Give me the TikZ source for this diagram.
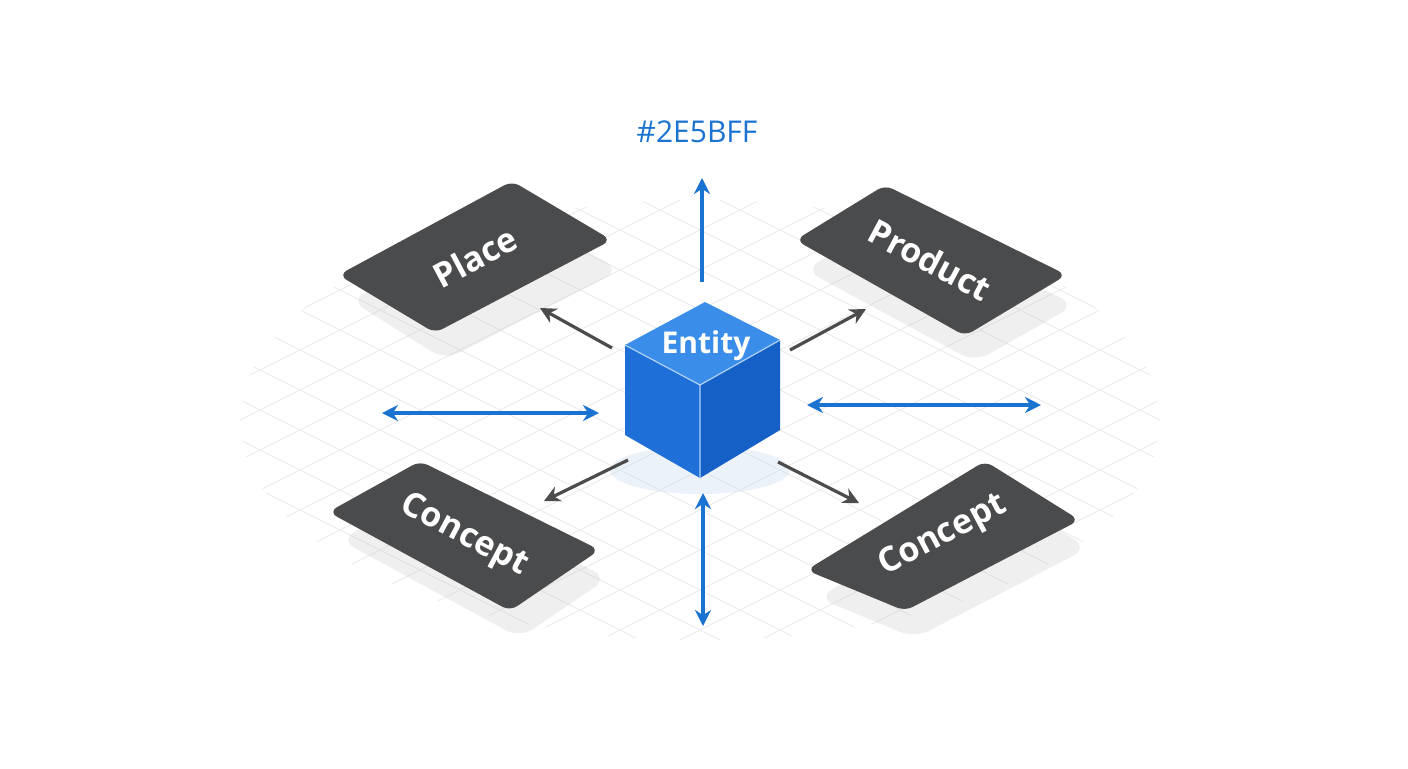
\documentclass[tikz,border=0pt]{standalone}
\usepackage{fontspec}
\setmainfont{Open Sans}
\usetikzlibrary{arrows.meta}
\definecolor{cardgray}{HTML}{4A4B4D}
\definecolor{arrowblue}{HTML}{1A73D0}
\definecolor{cubetop}{HTML}{3A8EEA}
\definecolor{cubeleft}{HTML}{1F6FD8}
\definecolor{cuberight}{HTML}{1560C6}
\begin{document}
\begin{tikzpicture}[x=0.5pt,y=-0.5pt,
  card/.style={fill=cardgray,draw=black!70,line width=0.8pt,rounded corners=4pt},
  shade card/.style={fill=black!20,opacity=0.3,rounded corners=8pt},
  card label/.style={text=white,font=\bfseries\fontsize{17}{17}\selectfont},
  blue arrow/.style={draw=arrowblue,line width=1.6pt,-{Stealth[length=8pt,width=8pt]}},
  blue double/.style={draw=arrowblue,line width=1.6pt,{Stealth[length=8pt,width=8pt]}-{Stealth[length=8pt,width=8pt]}},
  gray arrow/.style={draw=black!70,line width=1.6pt,-{Stealth[length=8pt,width=8pt]}}]
  \useasboundingbox (0,0) rectangle (1408,768);
  \fill[white] (0,0) rectangle (1408,768);

  % grid
  \begin{scope}
    \clip (700,420) ellipse [x radius=460, y radius=220];
    \foreach \k in {-1400,-1360,...,1400}
      \draw[black!7,line width=0.5pt] (0,\k) -- (1408,\k+704);
    \foreach \k in {-700,-660,...,2100}
      \draw[black!7,line width=0.5pt] (0,\k) -- (1408,\k-704);
  \end{scope}

  % shadows
  \fill[shade card] (350,300) -- (520,215) -- (620,270) -- (445,360) -- cycle;
  \fill[shade card] (805,270) -- (895,215) -- (1075,305) -- (975,362) -- cycle;
  \fill[shade card] (340,540) -- (430,490) -- (608,578) -- (520,638) -- cycle;
  \fill[shade card] (818,598) -- (995,490) -- (1088,548) -- (915,638) -- cycle;

  % cards
  \filldraw[card] (340,275) -- (512,182) -- (610,240) -- (435,332) -- cycle;
  \node[card label,rotate=28] (place) at (475,257) {Place};
  \filldraw[card] (797,240) -- (885,186) -- (1065,275) -- (965,335) -- cycle;
  \node[card label,rotate=-28] (product) at (930,260) {Product};
  \filldraw[card] (330,512) -- (420,462) -- (598,550) -- (510,610) -- cycle;
  \node[card label,rotate=-28] (conceptl) at (464,536) {Concept};
  \filldraw[card] (808,570) -- (985,462) -- (1078,520) -- (905,610) -- cycle;
  \node[card label,rotate=28] (conceptr) at (943,536) {Concept};

  % cube
  \fill[arrowblue!25,opacity=0.35] (700,470) ellipse [x radius=90, y radius=24];
  \fill[cubetop] (625,345) -- (705,302) -- (780,340) -- (700,385) -- cycle;
  \fill[cubeleft] (625,345) -- (700,385) -- (700,478) -- (625,435) -- cycle;
  \fill[cuberight] (700,385) -- (780,340) -- (780,430) -- (700,478) -- cycle;
  \draw[white!60!cubetop,line width=0.6pt] (625,345) -- (700,385) -- (780,340) (700,385) -- (700,478);
  \node[text=white,font=\bfseries\fontsize{15}{15}\selectfont] (entity) at (706,346) {Entity};

  % label
  \node[text=arrowblue,font=\fontsize{15}{15}\selectfont] (hex) at (697,132) {\#2E5BFF};

  % arrows
  \coordinate (up0) at (702,282);   \coordinate (up1) at (702,178);
  \coordinate (pl0) at (612,348);   \coordinate (pl1) at (540,308);
  \coordinate (pr0) at (790,350);   \coordinate (pr1) at (866,309);
  \coordinate (cl0) at (628,460);   \coordinate (cl1) at (544,501);
  \coordinate (cr0) at (778,462);   \coordinate (cr1) at (859,503);
  \coordinate (w0) at (382,413);    \coordinate (w1) at (599,413);
  \coordinate (e0) at (807,405);    \coordinate (e1) at (1041,405);
  \coordinate (s0) at (703,493);    \coordinate (s1) at (703,626);
  \draw[blue arrow] (up0) -- (up1);
  \draw[gray arrow] (pl0) -- (pl1);
  \draw[gray arrow] (pr0) -- (pr1);
  \draw[gray arrow] (cl0) -- (cl1);
  \draw[gray arrow] (cr0) -- (cr1);
  \draw[blue double] (w0) -- (w1);
  \draw[blue double] (e0) -- (e1);
  \draw[blue double] (s0) -- (s1);
\end{tikzpicture}
\end{document}
